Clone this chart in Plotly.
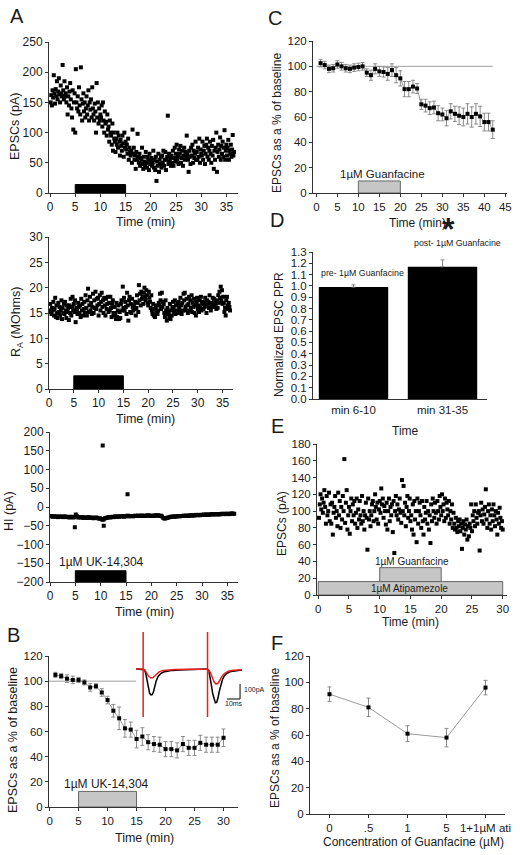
import numpy as np
import plotly.graph_objects as go

W, H = 520, 855
FONT = "Liberation Sans, Arial, Helvetica, sans-serif"
INK = "#1a1a1a"

# ---------------- DATA ----------------
# Panel A (top): EPSC amplitude (pA), sampled every 0.125 min
A_dt = 0.125
A_epsc = [
    150, 162, 145, 170, 158, 195, 165, 148,
    172, 160, 185, 155, 168, 190, 163, 150,
    178, 165, 160, 212, 170, 155, 185, 160,
    165, 150, 175, 130, 160, 145, 168, 182,
    155, 140, 125, 170, 105, 150, 165, 100,
    205, 150, 140, 160, 135, 175, 145, 130,
    208, 155, 120, 148, 165, 135, 150, 125,
    140, 160, 130, 145, 170, 120, 150, 138,
    155, 125, 175, 140, 130, 120, 148, 135,
    100, 182, 125, 150, 115, 140, 120, 130,
    125, 145, 110, 150, 120, 100, 135, 115,
    118, 95, 130, 105, 110, 85, 120, 100,
    95, 80, 115, 70, 100, 90, 85, 68,
    90, 80, 100, 75, 95, 85, 62, 88,
    78, 70, 95, 82, 60, 100, 75, 85,
    72, 80, 65, 90, 55, 75, 68, 62,
    70, 50, 105, 65, 75, 55, 62, 40,
    68, 55, 98, 60, 50, 65, 45, 58,
    55, 75, 48, 40, 60, 52, 45, 68,
    50, 42, 60, 55, 38, 65, 48, 52,
    58, 45, 50, 70, 42, 55, 38, 60,
    20, 52, 45, 65, 35, 55, 48, 60,
    42, 62, 50, 70, 45, 55, 68, 38,
    55, 60, 128, 48, 65, 52, 58, 45,
    62, 50, 70, 45, 58, 75, 52, 65,
    80, 55, 60, 48, 72, 65, 78, 50,
    58, 70, 45, 62, 75, 55, 68, 60,
    95, 65, 55, 35, 70, 60, 48, 75,
    62, 80, 50, 70, 58, 65, 85, 55,
    68, 55, 75, 60, 90, 50, 72, 65,
    62, 85, 55, 70, 78, 48, 65, 80,
    90, 60, 75, 55, 70, 85, 65, 50,
    78, 62, 88, 40, 70, 55, 75, 100,
    35, 68, 80, 60, 72, 92, 55, 78,
    65, 85, 60, 75, 104, 55, 70, 80,
    62, 75, 88, 55, 70, 65, 80, 60,
    72, 96, 62, 68,
]

# Panel A (middle): access resistance (MOhm)
A_ra = [
    15.5, 16.8, 15.2, 14.8, 16.0, 15.5, 17.2, 14.5,
    15.8, 18.0, 14.2, 16.5, 15.0, 14.0, 17.0, 15.2,
    16.2, 14.5, 15.5, 17.5, 13.8, 16.0, 15.0, 16.8,
    14.8, 17.2, 15.5, 14.0, 16.5, 15.2, 16.0, 13.6,
    16.5, 15.0, 17.8, 14.5, 16.2, 18.2, 15.5, 16.8,
    15.2, 17.5, 13.2, 16.0, 15.5, 14.8, 17.0, 16.2,
    15.0, 16.5, 14.2, 17.8, 15.5, 16.8, 14.5, 15.8,
    17.2, 15.0, 18.5, 16.0, 14.5, 17.5, 19.8, 15.2,
    16.5, 18.2, 15.5, 17.0, 14.8, 16.2, 18.8, 15.0,
    17.5, 16.0, 19.2, 15.8, 17.8, 16.5, 18.0, 14.5,
    16.8, 18.5, 15.5, 17.2, 19.0, 16.2, 17.5, 15.0,
    18.0, 16.5, 14.5, 17.8, 15.8, 16.8, 18.2, 15.2,
    17.0, 15.5, 18.2, 16.0, 14.2, 16.8, 17.5, 15.0,
    14.5, 16.2, 15.0, 13.8, 17.0, 14.2, 15.5, 16.5,
    13.8, 15.2, 14.0, 16.8, 17.5, 15.5, 20.2, 16.0,
    18.0, 15.5, 17.2, 16.2, 14.8, 19.0, 16.5, 13.5,
    17.5, 18.2, 15.2, 16.8, 15.0, 17.8, 16.2, 15.5,
    16.5, 15.8, 17.2, 14.5, 16.0, 18.5, 17.0, 15.2,
    20.5, 17.5, 18.8, 16.5, 19.2, 17.8, 18.2, 16.8,
    19.0, 20.0, 18.2, 17.5, 19.5, 18.5, 17.0, 16.5,
    19.2, 18.0, 17.2, 16.0, 18.5, 15.5, 14.8, 16.8,
    14.5, 15.8, 14.2, 16.2, 15.0, 16.5, 14.8, 15.5,
    17.0, 16.5, 18.8, 17.5, 15.8, 19.0, 16.2, 17.2,
    16.8, 15.0, 14.2, 17.5, 15.5, 13.5, 16.0, 14.8,
    15.2, 14.0, 16.8, 13.8, 15.5, 14.5, 16.2, 17.2,
    16.0, 15.2, 17.5, 14.8, 16.5, 15.5, 16.8, 15.0,
    17.2, 16.0, 15.2, 18.0, 16.5, 14.8, 17.0, 15.5,
    18.8, 17.5, 19.0, 16.2, 15.5, 17.8, 16.5, 15.0,
    16.8, 18.2, 15.5, 17.5, 16.0, 18.5, 15.2, 17.0,
    16.2, 17.8, 15.0, 16.5, 14.5, 17.2, 18.0, 15.8,
    16.5, 15.2, 17.5, 16.0, 18.2, 15.5, 16.8, 17.2,
    15.8, 17.0, 16.2, 18.0, 16.5, 15.0, 17.5, 16.8,
    17.2, 16.0, 18.5, 16.8, 15.5, 17.0, 16.2, 18.0,
    16.5, 17.8, 16.2, 17.2, 16.8, 15.8, 17.5, 16.0,
    18.5, 17.0, 19.2, 18.0, 20.2, 17.5, 19.5, 16.8,
    18.2, 17.0, 15.2, 16.0, 14.5, 17.5, 18.2, 16.5,
    15.8, 17.0, 16.2, 15.5,
]

# Panel A (bottom): holding current (pA), sampled every 0.25 min
HI_dt = 0.25
A_hi = [
    -25, -24, -26, -25, -26, -25, -27, -26, -25, -26, -27, -25,
    -26, -27, -26, -28, -27, -26, -28, -27, -20, -25, -28, -27,
    -28, -27, -29, -28, -28, -29, -27, -28, -29, -28, -30, -29,
    -28, -29, -31, -30, -32, -34, -33, -30, -29, -28, -27, -28,
    -27, -26, -27, -25, -26, -25, -26, -25, -25, -24, -26, -25,
    -24, -23, -25, -24, -24, -25, -24, -23, -24, -23, -24, -23,
    -23, -24, -23, -24, -23, -22, -23, -24, -23, -24, -23, -22,
    -23, -22, -24, -23, -25, -29, -31, -30, -29, -28, -27, -26,
    -26, -25, -26, -25, -25, -24, -25, -24, -24, -23, -24, -23,
    -23, -24, -22, -23, -22, -23, -22, -21, -22, -21, -22, -21,
    -21, -20, -21, -20, -20, -21, -20, -19, -20, -19, -20, -19,
    -19, -20, -19, -18, -19, -18, -19, -18, -18, -19, -18, -17,
    -18, -18,
]
A_hi_out_t = [4.9, 10.4, 10.6, 15.3]
A_hi_out_v = [-54, 164, -50, 34]

# Panel B: UK-14,304 normalized EPSCs
B_t = list(range(1, 31))
B_v = [105, 104, 102, 101, 101, 99, 95, 96, 91, 85, 76.5, 70.5, 62.5, 61.5, 54,
       56, 51.5, 50, 49.5, 46, 46, 45, 50, 47, 47, 51, 49.5, 49.5, 49.5, 55]
B_err = [2, 2, 3, 3, 2, 2, 3, 2, 3, 3, 5, 9, 7, 6, 7, 7, 6, 6, 6, 6, 6, 6, 6, 6,
         6, 6, 6, 6, 6, 7]

# Panel B inset: example EPSC traces (ms, pA)
T_black = [0, 3, 5.5, 6.5, 7.5, 8.5, 9.5, 10.5, 11.5, 12.5, 13.5, 14.5, 15.5, 17, 19,
           21, 24, 28, 33, 40, 48, 54.5, 56, 57, 58, 59, 60, 61, 62, 63, 64, 65,
           66.5, 68, 70, 73, 77, 81.5]
I_black = [0, 0, 0, -5, -30, -80, -130, -162, -172, -170, -150, -115, -80, -50, -30,
           -20, -14, -9, -6, -3, -1, 0, -10, -50, -110, -165, -205, -225, -222, -195,
           -150, -110, -70, -45, -28, -16, -10, -6]
T_red = [0, 3, 5.5, 5.5, 5.5, 5.5, 7, 8.5, 10, 11.5, 13, 14.5, 16, 18, 21, 25, 30, 40,
         55, 55, 55, 55, 57, 58.5, 60, 61.5, 63, 64.5, 66, 68, 71, 75, 81.5]
I_red = [0, 0, 0, 247, -320, 0, -10, -35, -52, -60, -57, -45, -30, -17, -9, -5, -3, -1,
         0, 247, -320, 0, -20, -55, -85, -100, -95, -75, -50, -30, -15, -8, -4]
SCALE_T = [80, 80, 70]
SCALE_I = [-100, -200, -200]

# Panel C: guanfacine normalized EPSCs
C_t = list(range(1, 43))
C_v = [102.5, 101, 98, 98.5, 101.5, 100, 98.5, 98, 99, 99.5, 100, 95, 93, 98, 96,
       95.5, 94, 97, 93, 90.5, 82, 82, 84, 82.5, 70, 69, 67, 67.5, 63, 62, 59, 64.5,
       62.5, 61, 60, 62.5, 60, 62.5, 60.5, 56, 56, 50]
C_err = [3, 3, 3, 3, 3, 3, 3, 3, 3, 3, 3, 3, 4, 4, 4, 4, 5, 5, 6, 6, 6, 6, 5, 4, 4, 5,
         5, 5, 6, 5, 6, 6, 6, 7, 7, 8, 8, 8, 8, 7, 7, 7]

# Panel D: paired-pulse ratio
D_cats = ["min 6-10", "min 31-35"]
D_v = [0.99, 1.17]
D_err = [0.02, 0.06]

# Panel E: EPSCs with atipamezole, sampled every 0.125 min
E_dt = 0.125
E_v = [
    92, 108, 120, 102, 115, 98, 110, 125,
    105, 85, 118, 95, 100, 122, 88, 108,
    85, 110, 72, 98, 105, 118, 92, 100,
    82, 122, 95, 112, 80, 105, 90, 118,
    100, 162, 86, 110, 125, 78, 95, 105,
    73, 100, 115, 88, 108, 95, 112, 85,
    98, 115, 80, 102, 90, 112, 95, 85,
    118, 88, 100, 78, 95, 110, 92, 54,
    115, 90, 100, 82, 95, 108, 112, 88,
    100, 120, 105, 90, 110, 85, 102, 112,
    98, 127, 108, 115, 92, 106, 100, 84,
    110, 78, 100, 115, 88, 105, 95, 108,
    75, 112, 50, 100, 118, 95, 108, 90,
    102, 115, 98, 86, 137, 100, 130, 95,
    110, 82, 105, 118, 92, 100, 115, 88,
    95, 78, 108, 72, 112, 90, 100, 63,
    115, 85, 100, 110, 95, 80, 112, 88,
    72, 105, 90, 98, 112, 85, 100, 78,
    95, 62, 108, 88, 115, 100, 92, 110,
    98, 85, 112, 100, 90, 118, 105, 95,
    120, 100, 108, 88, 115, 92, 110, 102,
    95, 112, 85, 100, 90, 108, 80, 98,
    85, 78, 92, 80, 75, 88, 82, 90,
    76, 85, 55, 80, 88, 72, 84, 78,
    90, 66, 82, 70, 85, 80, 108, 76,
    95, 88, 100, 82, 108, 92, 85, 98,
    100, 53, 95, 110, 88, 102, 85, 96,
    105, 126, 90, 80, 100, 108, 85, 95,
    78, 102, 88, 108, 95, 82, 100, 90,
    72, 98, 85, 104, 92, 80, 88, 78,
]

# Panel F: dose response
F_cats = ["0", ".5", "1", "5", "1+1µM ati"]
F_v = [91, 81, 61, 58, 96]
F_err = [5.5, 7, 6, 7, 5.5]

# ---------------- HELPERS ----------------
def xd(a, b):
    return [a / W, b / W]

def yd(top, bottom):
    return [1 - bottom / H, 1 - top / H]

def px(x):
    return x / W

def py(y):
    return 1 - y / H

def axis(domain, rng, anchor, size=11.5, **kw):
    d = dict(domain=domain, range=rng, anchor=anchor, showline=True,
             linecolor="#333", linewidth=1, ticks="outside", ticklen=3,
             tickwidth=1, tickcolor="#333", showgrid=False, zeroline=False,
             tickfont=dict(size=size, color=INK, family=FONT), mirror=False,
             fixedrange=True, automargin=False)
    d.update(kw)
    return d

fig = go.Figure()

sq = dict(symbol="square", color="black", size=4, line=dict(width=0))

# A top
tA = (np.arange(len(A_epsc)) + 1) * A_dt
fig.add_trace(go.Scatter(x=tA, y=A_epsc, mode="markers", marker=sq,
                         xaxis="x", yaxis="y", cliponaxis=False))
# A middle
tR = (np.arange(len(A_ra)) + 1) * A_dt
fig.add_trace(go.Scatter(x=tR, y=A_ra, mode="markers", marker=sq,
                         xaxis="x2", yaxis="y2"))
# A bottom
tH = (np.arange(len(A_hi))) * HI_dt + 0.1
fig.add_trace(go.Scatter(x=tH, y=A_hi, mode="markers", marker=sq,
                         xaxis="x3", yaxis="y3"))
fig.add_trace(go.Scatter(x=A_hi_out_t, y=A_hi_out_v, mode="markers", marker=sq,
                         xaxis="x3", yaxis="y3"))

errstyle = dict(type="data", color="#8a8a8a", thickness=1, width=2)

# B
fig.add_trace(go.Scatter(x=B_t, y=B_v, mode="lines+markers",
                         line=dict(color="#9a9a9a", width=1),
                         marker=dict(symbol="square", color="black", size=4),
                         error_y=dict(array=B_err, **errstyle),
                         xaxis="x4", yaxis="y4"))
# B inset
fig.add_trace(go.Scatter(x=T_black, y=I_black, mode="lines",
                         line=dict(color="black", width=1.5),
                         xaxis="x9", yaxis="y9"))
fig.add_trace(go.Scatter(x=T_red, y=I_red, mode="lines",
                         line=dict(color="#e8201e", width=1.5),
                         xaxis="x9", yaxis="y9"))
fig.add_trace(go.Scatter(x=SCALE_T, y=SCALE_I, mode="lines",
                         line=dict(color="black", width=1),
                         xaxis="x9", yaxis="y9"))

# C
fig.add_trace(go.Scatter(x=C_t, y=C_v, mode="lines+markers",
                         line=dict(color="#9a9a9a", width=1),
                         marker=dict(symbol="square", color="black", size=4),
                         error_y=dict(array=C_err, **errstyle),
                         xaxis="x5", yaxis="y5"))
# D
fig.add_trace(go.Bar(x=[0, 1], y=D_v, width=0.78, marker=dict(color="black", line=dict(width=0)),
                     error_y=dict(array=D_err, arrayminus=[0, 0], symmetric=False,
                                  **errstyle),
                     xaxis="x6", yaxis="y6"))
# E
tE = (np.arange(len(E_v)) + 1) * E_dt
fig.add_trace(go.Scatter(x=tE, y=E_v, mode="markers", marker=sq,
                         xaxis="x7", yaxis="y7"))
# F
fig.add_trace(go.Scatter(x=list(range(len(F_v))), y=F_v, mode="lines+markers",
                         line=dict(color="#9a9a9a", width=1),
                         marker=dict(symbol="square", color="black", size=4),
                         error_y=dict(array=F_err, **errstyle),
                         xaxis="x8", yaxis="y8"))

# ---------------- LAYOUT ----------------
layout = dict(
    width=W, height=H, margin=dict(l=0, r=0, t=0, b=0, autoexpand=False),
    paper_bgcolor="white", plot_bgcolor="white", showlegend=False,
    font=dict(family=FONT, color=INK),
    xaxis=axis(xd(49, 238), [-0.2, 37.3], "y", size=12, dtick=5, tick0=0),
    yaxis=axis(yd(42, 193), [0, 250], "x", size=12, dtick=50),
    xaxis2=axis(xd(49, 233), [0, 37.1], "y2", size=12, dtick=5, tick0=0),
    yaxis2=axis(yd(237, 389), [0, 30], "x2", size=12, dtick=5),
    xaxis3=axis(xd(50, 238), [0, 37.1], "y3", size=12, dtick=5, tick0=0),
    yaxis3=axis(yd(432, 582), [-200, 200], "x3", size=12, dtick=50),
    xaxis4=axis(xd(49, 238), [-0.1, 32.5], "y4", dtick=5, tick0=0),
    yaxis4=axis(yd(656, 807), [0, 120], "x4", dtick=20),
    xaxis5=axis(xd(313, 507), [-0.8, 45.4], "y5", dtick=5, tick0=0),
    yaxis5=axis(yd(41, 193), [0, 120], "x5", dtick=20),
    xaxis6=axis(xd(313, 487), [-0.455, 1.5], "y6", tickvals=[0, 1], ticktext=D_cats,
                ticks=""),
    yaxis6=axis(yd(252, 399), [0, 1.3], "x6", dtick=0.1, tickformat=".1f"),
    xaxis7=axis(xd(317, 507), [-0.2, 30.7], "y7", dtick=5, tick0=0),
    yaxis7=axis(yd(444, 595), [0, 180], "x7", dtick=20),
    xaxis8=axis(xd(310, 505), [-0.5, 4.5], "y8", tickvals=list(range(5)), ticktext=F_cats),
    yaxis8=axis(yd(656, 814), [0, 120], "x8", dtick=20),
    xaxis9=dict(domain=xd(136, 242), range=[0, 81.5], anchor="y9", visible=False,
                fixedrange=True, automargin=False),
    yaxis9=dict(domain=yd(632, 717), range=[-320, 247], anchor="x9", visible=False,
                fixedrange=True, automargin=False),
)
fig.update_layout(**layout)

# ---------------- SHAPES ----------------
shapes = []
def rect(xr, yr, x0, x1, y0, y1, fill, line="#666"):
    shapes.append(dict(type="rect", xref=xr, yref=yr, x0=x0, x1=x1, y0=y0, y1=y1,
                       fillcolor=fill, line=dict(color=line, width=1), layer="below"))

rect("x", "y", 5, 15, 0, 14, "black", "black")
rect("x2", "y2", 5, 15, 0, 2.6, "black", "black")
rect("x3", "y3", 5, 15, -200, -170, "black", "black")
rect("x4", "y4", 5, 15, 0, 12.4, "#c6c6c6")
rect("x5", "y5", 10, 20, 0, 9.5, "#c6c6c6")
rect("x7", "y7", 0, 30, 0, 16, "#c6c6c6")
rect("x7", "y7", 10, 20, 16, 32.6, "#c6c6c6")
shapes.append(dict(type="line", xref="x4 domain", yref="y4", x0=0, x1=1, y0=100, y1=100,
                   line=dict(color="#a0a0a0", width=1), layer="below"))
shapes.append(dict(type="line", xref="x5", yref="y5", x0=0, x1=42, y0=100, y1=100,
                   line=dict(color="#a0a0a0", width=1), layer="below"))
fig.update_layout(shapes=shapes)

# ---------------- ANNOTATIONS ----------------
ann = []
def txt(x, y, s, size=12, angle=0, **kw):
    d = dict(x=px(x), y=py(y), xref="paper", yref="paper", text=s, showarrow=False,
             textangle=angle, font=dict(size=size, family=FONT, color=INK),
             xanchor="center", yanchor="middle")
    d.update(kw)
    ann.append(d)

for s, x, y in [("A", 17, 16), ("B", 13, 635), ("C", 275, 18), ("D", 277, 220),
                ("E", 277, 426), ("F", 277, 643)]:
    txt(x, y, s, size=20)

txt(145, 222, "Time (min)", 12.5)
txt(145, 419, "Time (min)", 12.5)
txt(144, 612, "Time (min)", 12.5)
txt(144, 838, "Time (min)", 12.5)
txt(417, 223, "Time (min)", 12)
txt(405, 431, "Time", 12)
txt(410, 622, "Time (min)", 12)
txt(413, 842, "Concentration of Guanfacine (µM)", 12)

txt(15, 127, "EPSCs (pA)", 12.5, -90)
txt(17, 322, "R<sub>A</sub> (MOhms)", 12.5, -90)
txt(9, 511, "HI (pA)", 12.5, -90)
txt(13, 740, "EPSCs as a % of baseline", 12.5, -90)
txt(277, 123, "EPSCs as a % of baseline", 12, -90)
txt(279, 335, "Normalized EPSC PPR", 12, -90)
txt(282, 524, "EPSCs (pA)", 12, -90)
txt(275, 738, "EPSCs as a % of baseline", 12, -90)

# in-plot labels (data coordinates)
def dtxt(xr, yr, x, y, s, size=12, **kw):
    d = dict(x=x, y=y, xref=xr, yref=yr, text=s, showarrow=False,
             font=dict(size=size, family=FONT, color=INK),
             xanchor="center", yanchor="middle")
    d.update(kw)
    ann.append(d)

dtxt("x3", "y3", 10.2, -147, "1µM UK-14,304", 12)
dtxt("x4", "y4", 9.9, 18.5, "1µM UK-14,304", 12)
dtxt("x5", "y5", 15.8, 14.8, "1µM Guanfacine", 11.5)
dtxt("x7", "y7", 15.2, 39.5, "1µM Guanfacine", 10)
dtxt("x7", "y7", 14.8, 8, "1µM Atipamezole", 10)
dtxt("x9", "y9", 81.5, -140, "100pA", 7, xanchor="left")
dtxt("x9", "y9", 75, -232, "10ms", 7)

txt(362, 273, "pre- 1µM Guanfacine", 8.8)
txt(457, 243, "post- 1µM Guanfacine", 8.8)
txt(448, 229, "<b>*</b>", 32)

fig.update_layout(annotations=ann)

fig.write_html("out.html", config={"displayModeBar": False},
               post_script="document.body.style.margin='0';document.body.style.padding='0';")
